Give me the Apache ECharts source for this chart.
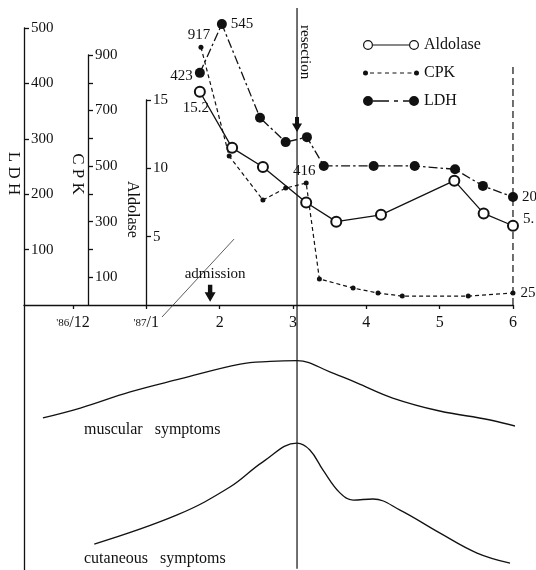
<!DOCTYPE html>
<html><head><meta charset="utf-8">
<script src="https://cdn.jsdelivr.net/npm/echarts@6/dist/echarts.min.js"></script>
<style>html,body{margin:0;padding:0;background:#fff}#c{width:536px;height:570px}</style>
</head><body><div id="c"></div>
<script>
// x = months: 0 = '86/12, 1 = '87/1, 2..6 = months of 1987
const monthTicks  = [0, 1, 2, 3, 4, 5, 6];
const monthLabels = ["'86/12", "'87/1", "2", "3", "4", "5", "6"];

const ldhMonths = [1.73, 2.03, 2.55, 2.90, 3.19, 3.42, 4.10, 4.66, 5.21, 5.59, 6.0];
const ldhValues = [419, 507, 338, 294, 303, 251, 251, 251, 245, 215, 195];
const ldhNotes  = ['423', '545', '', '', '', '', '', '', '', '', '20'];

const aldMonths = [1.73, 2.17, 2.59, 3.18, 3.59, 4.20, 5.20, 5.60, 6.0];
const aldValues = [15.6, 11.5, 10.1, 7.5, 6.1, 6.6, 9.1, 6.7, 5.8];
const aldNotes  = ['15.2', '', '', '', '', '', '', '', '5.'];

const cpkMonths = [1.745, 2.13, 2.59, 2.90, 3.18, 3.36, 3.82, 4.16, 4.49, 5.39, 6.0];
const cpkValues = [928, 536, 378, 421, 439, 94, 61, 43, 32, 32, 43];
const cpkNotes  = ['917', '', '', '', '416', '', '', '', '', '', '25'];

// symptom intensity (relative, 0-100)
const muscMonths = [-0.41, 0.10, 0.78, 1.46, 2.28, 2.69, 3.055, 3.51, 3.87, 4.36, 5.0, 5.69, 6.27];
const muscValues = [57.4, 61.1, 67.2, 72.1, 77.7, 78.7, 79.0, 74.7, 70.6, 64.9, 60.0, 56.6, 52.5];
const cutMonths  = [0.29, 1.42, 2.14, 2.59, 3.055, 3.23, 3.41, 3.64, 3.82, 4.09, 4.46, 5.0, 5.51, 5.96];
const cutValues  = [9.8, 20.8, 31.3, 40.8, 47.9, 45.3, 37.7, 29.1, 26.4, 26.8, 22.6, 14.0, 6.4, 2.6];

const admissionMonth = 1.87;
const resectionMonth = 3.055;

// ---------- layout / style ----------
const INK = '#111';
const SERIF = '"Liberation Serif","DejaVu Serif",serif';
const PX0 = 73, PXM = 73.33;            // pixel of month 0 and pixels per month
const RIGHT = 536 - (PX0 + 6 * PXM);    // grid right margin (month 6 at the right end)
const minFor = left => (left - PX0) / PXM;

const axisLineStyle = { color: INK, width: 1.3 };

function notedData(xs, ys, notes, labelFor) {
  return xs.map((x, i) => {
    const item = { value: [x, ys[i]] };
    if (notes[i]) {
      item.label = Object.assign({ show: true, formatter: notes[i], fontFamily: SERIF, fontSize: 15, color: INK }, labelFor(i, xs.length));
    }
    return item;
  });
}
const pairs = (xs, ys) => xs.map((x, i) => [x, ys[i]]);

// legend icons
const disc = (cx, cy, r) => `M${cx - r},${cy} A${r},${r} 0 1,1 ${cx + r},${cy} A${r},${r} 0 1,1 ${cx - r},${cy} Z `;
const hole = (cx, cy, r) => `M${cx - r},${cy} A${r},${r} 0 1,0 ${cx + r},${cy} A${r},${r} 0 1,0 ${cx - r},${cy} Z `;
const bar = (x0, x1, cy, h) => `M${x0},${cy - h / 2} L${x1},${cy - h / 2} L${x1},${cy + h / 2} L${x0},${cy + h / 2} Z `;
const ALD_ICON = 'path://' + disc(5, 5, 5) + hole(5, 5, 3.8) + bar(10, 46, 5, 1.2) + disc(51, 5, 5) + hole(51, 5, 3.8);
let cpkPath = disc(2.5, 5, 2.5) + disc(53.5, 5, 2.5);
for (let x = 7; x < 50; x += 7.5) cpkPath += bar(x, Math.min(x + 4, 50), 5, 1.2);
const CPK_ICON = 'path://' + cpkPath;
const LDH_ICON = 'path://' + disc(5, 5, 5) + bar(10, 26, 5, 1.3) + bar(31, 35, 5, 1.3) + bar(40, 46, 5, 1.3) + disc(51, 5, 5);
const ARROW = 'path://M3,0 L7,0 L7,7 L10,7 L5,16 L0,7 L3,7 Z';

function tickLabel(v) {
  const s = monthLabels[monthTicks.indexOf(v)];
  if (s === undefined) return '';
  const k = s.indexOf('/');
  return k < 0 ? '{b|' + s + '}' : '{s|' + s.slice(0, k) + '}{b|' + s.slice(k) + '}';
}

const yBase = (extra) => Object.assign({
  type: 'value',
  axisLine: { show: true, onZero: false, lineStyle: axisLineStyle },
  axisTick: { show: true, inside: true, length: 5, lineStyle: axisLineStyle },
  axisLabel: { inside: true, margin: 7, fontFamily: SERIF, fontSize: 15, color: INK, showMinLabel: false },
  splitLine: { show: false },
  nameLocation: 'middle', nameRotate: -90, nameMoveOverlap: false
}, extra);

const hiddenX = (grid, left) => ({ type: 'value', gridIndex: grid, show: false, min: minFor(left), max: 6 });
const gridBox = (left, top, bottom) => ({ left, right: RIGHT, top, bottom, containLabel: false, outerBoundsMode: 'none' });

const option = {
  animation: false,
  backgroundColor: '#fff',
  grid: [
    gridBox(24, 28, 265),   // LDH
    gridBox(88, 55, 265),   // CPK
    gridBox(146, 100, 265), // Aldolase
    gridBox(24, 305, 0)     // symptoms
  ],
  xAxis: [
    {
      type: 'value', gridIndex: 0, min: minFor(24), max: 6,
      axisLine: { onZero: false, lineStyle: axisLineStyle },
      axisTick: { customValues: monthTicks, length: 4, lineStyle: axisLineStyle },
      axisLabel: {
        customValues: monthTicks, margin: 10, color: INK, fontFamily: SERIF,
        formatter: tickLabel,
        rich: { s: { fontSize: 11, fontFamily: SERIF, color: INK }, b: { fontSize: 16, fontFamily: SERIF, color: INK } }
      },
      splitLine: { show: false }
    },
    hiddenX(1, 88), hiddenX(2, 146), hiddenX(3, 24)
  ],
  yAxis: [
    yBase({ gridIndex: 0, min: 0, max: 500, interval: 100, name: 'L D H', nameGap: 2,
      nameTextStyle: { fontFamily: SERIF, fontSize: 17, color: INK, padding: [0, 0, 0, 14] } }),
    yBase({ gridIndex: 1, min: 0, max: 900, interval: 100, name: 'C P K', nameGap: 2,
      nameTextStyle: { fontFamily: SERIF, fontSize: 17, color: INK, padding: [0, 12, 0, 0] },
      axisLabel: { inside: true, margin: 7, fontFamily: SERIF, fontSize: 15, color: INK, showMinLabel: false,
        formatter: v => ((v / 100) % 2 === 1 ? String(v) : '') } }),
    yBase({ gridIndex: 2, min: 0, max: 15, interval: 5, name: 'Aldolase', nameGap: 6,
      nameTextStyle: { fontFamily: SERIF, fontSize: 16, color: INK, padding: [0, 0, 0, 14] } }),
    { type: 'value', gridIndex: 3, min: 0, max: 100, axisLine: { show: true, onZero: false, lineStyle: axisLineStyle },
      axisTick: { show: false }, axisLabel: { show: false }, splitLine: { show: false } }
  ],
  legend: {
    orient: 'vertical', left: 358, top: 32, itemWidth: 56, itemHeight: 10, itemGap: 12,
    textStyle: { fontFamily: SERIF, fontSize: 16, color: INK },
    data: [
      { name: 'Aldolase', icon: ALD_ICON, itemStyle: { color: INK, borderWidth: 0 } },
      { name: 'CPK', icon: CPK_ICON, itemStyle: { color: INK, borderWidth: 0 } },
      { name: 'LDH', icon: LDH_ICON, itemStyle: { color: INK, borderWidth: 0 } }
    ]
  },
  graphic: [
    { type: 'text', x: 305, y: 25, rotation: -Math.PI / 2,
      style: { text: 'resection', font: '15px ' + SERIF, fill: INK, textAlign: 'left', textVerticalAlign: 'middle' } },
    { type: 'text', x: 84, y: 430,
      style: { text: 'muscular   symptoms', font: '16px ' + SERIF, fill: INK, textAlign: 'left', textVerticalAlign: 'middle' } },
    { type: 'text', x: 84, y: 559,
      style: { text: 'cutaneous   symptoms', font: '16px ' + SERIF, fill: INK, textAlign: 'left', textVerticalAlign: 'middle' } }
  ],
  series: [
    { // resection line across both panels
      type: 'line', xAxisIndex: 0, yAxisIndex: 0, clip: false, silent: true, z: 1,
      data: [[resectionMonth, 536], [resectionMonth, -476]], showSymbol: false, symbol: 'none',
      lineStyle: { color: INK, width: 1.2 }
    },
    { // dashed marker line at month 6
      type: 'line', xAxisIndex: 0, yAxisIndex: 0, clip: false, silent: true, z: 1,
      data: [[6, 0], [6, 430]], symbol: 'none',
      lineStyle: { color: INK, width: 1.2, type: [7, 4] }
    },
    { // axis-break diagonal near admission
      type: 'line', xAxisIndex: 0, yAxisIndex: 0, clip: false, silent: true, z: 1,
      data: [[1.214, -21.7], [2.196, 119]], symbol: 'none',
      lineStyle: { color: '#333', width: 0.8 }
    },
    {
      name: 'LDH', type: 'line', xAxisIndex: 0, yAxisIndex: 0, clip: false, z: 4,
      data: notedData(ldhMonths, ldhValues, ldhNotes, (i, n) =>
        i === 0 ? { position: 'left', distance: 2, offset: [0, 3] } : { position: 'right', distance: 4 }),
      symbol: 'circle', symbolSize: 10,
      itemStyle: { color: INK },
      lineStyle: { color: INK, width: 1.3, type: [9, 3, 2.5, 3] }
    },
    {
      name: 'Aldolase', type: 'line', xAxisIndex: 2, yAxisIndex: 2, clip: false, z: 5,
      data: notedData(aldMonths, aldValues, aldNotes, (i, n) =>
        i === 0 ? { position: 'bottom', distance: 3, offset: [-4, 0] } : { position: 'right', distance: 4, offset: [0, -7] }),
      symbol: 'emptyCircle', symbolSize: 10,
      itemStyle: { color: INK, borderWidth: 1.3 },
      lineStyle: { color: INK, width: 1.3 }
    },
    {
      name: 'CPK', type: 'line', xAxisIndex: 1, yAxisIndex: 1, clip: false, z: 3,
      data: notedData(cpkMonths, cpkValues, cpkNotes, (i, n) =>
        i === n - 1 ? { position: 'right', distance: 5 } : { position: 'top', distance: 2, offset: [-2, 0] }),
      symbol: 'circle', symbolSize: 5,
      itemStyle: { color: INK },
      lineStyle: { color: INK, width: 1.2, type: [4, 3] }
    },
    {
      type: 'line', xAxisIndex: 3, yAxisIndex: 3, clip: false, smooth: 0.4,
      data: pairs(muscMonths, muscValues), symbol: 'none', lineStyle: { color: INK, width: 1.3 }
    },
    {
      type: 'line', xAxisIndex: 3, yAxisIndex: 3, clip: false, smooth: 0.4,
      data: pairs(cutMonths, cutValues), symbol: 'none', lineStyle: { color: INK, width: 1.3 }
    },
    { // admission / resection arrows
      type: 'scatter', xAxisIndex: 0, yAxisIndex: 0, clip: false, z: 6, silent: true,
      itemStyle: { color: INK, opacity: 1 },
      data: [
        { value: [admissionMonth, 21], symbol: ARROW, symbolSize: [11, 17],
          label: { show: true, formatter: 'admission', position: 'top', distance: 3, offset: [5, 0],
                   fontFamily: SERIF, fontSize: 15, color: INK, opacity: 1 } },
        { value: [resectionMonth, 326], symbol: ARROW, symbolSize: [10, 15] }
      ]
    }
  ]
};

const chart = echarts.init(document.getElementById('c'), null, { renderer: 'canvas' });
chart.setOption(option);
</script>
</body></html>
